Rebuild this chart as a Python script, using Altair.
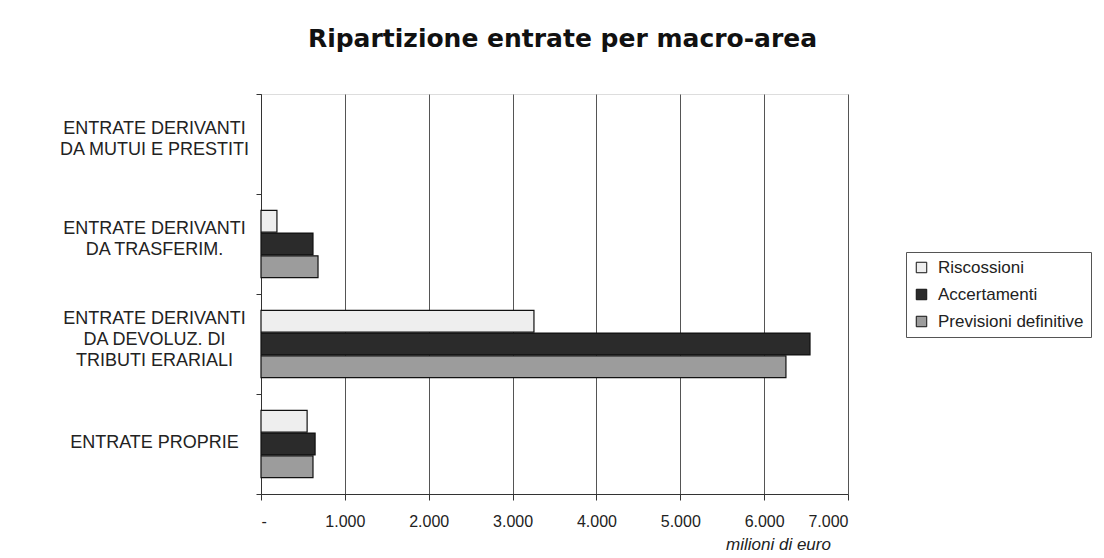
import altair as alt
import pandas as pd

categories = [
    "ENTRATE DERIVANTI|DA MUTUI E PRESTITI",
    "ENTRATE DERIVANTI|DA TRASFERIM.",
    "ENTRATE DERIVANTI|DA DEVOLUZ. DI|TRIBUTI ERARIALI",
    "ENTRATE PROPRIE",
]
series = ["Riscossioni", "Accertamenti", "Previsioni definitive"]
riscossioni = [0, 190, 3255, 550]
accertamenti = [0, 620, 6547, 645]
previsioni = [0, 680, 6260, 620]
x_ticks = [0, 1000, 2000, 3000, 4000, 5000, 6000, 7000]
colors = ["#eeeeee", "#2b2b2b", "#9c9c9c"]

rows = []
for vals, s in zip([riscossioni, accertamenti, previsioni], series):
    for c, v in zip(categories, vals):
        rows.append({"categoria": c, "serie": s, "valore": v})
df = pd.DataFrame(rows)

font = "Liberation Sans"

label_offset = {
    "condition": [
        {"test": "indexof(datum.label, 'TRIBUTI') >= 0", "value": -26},
        {"test": "indexof(datum.label, '|') >= 0", "value": -16},
    ],
    "value": -2,
}

chart = alt.Chart(df).mark_bar(stroke="#111111", strokeWidth=1.2).encode(
    y=alt.Y("categoria:N", sort=categories, title=None,
            scale=alt.Scale(domain=categories, paddingInner=0, paddingOuter=0),
            axis=alt.Axis(
                labelExpr="split(datum.label, '|')",
                labelAlign="center", labelPadding=102, tickBand="extent",
                labelOffset=label_offset,
                tickSize=5, tickColor="#333333", domainColor="#333333",
                labelFont=font, labelFontSize=18, labelColor="#222222",
                labelLineHeight=21, grid=False, labelLimit=400)),
    yOffset=alt.YOffset("serie:N", sort=series,
                        scale=alt.Scale(paddingInner=0.04, paddingOuter=0.72)),
    x=alt.X("valore:Q", title="milioni di euro",
            scale=alt.Scale(domain=[0, 7000], nice=False),
            axis=alt.Axis(values=x_ticks,
                          labelExpr="datum.value == 0 ? '-' : replace(format(datum.value, ',d'), ',', '.')",
                          grid=True, gridColor="#555555", gridWidth=1,
                          tickSize=6, tickColor="#333333", domainColor="#333333",
                          labelFont=font, labelFontSize=16, labelColor="#222222",
                          labelPadding=13,
                          titleFont=font, titleFontStyle="italic", titleFontWeight="normal",
                          titleFontSize=17, titleColor="#222222",
                          titleX=517, titleY=50, titleAlign="center", titleBaseline="middle")),
    color=alt.Color("serie:N", sort=series,
                    scale=alt.Scale(domain=series, range=colors),
                    legend=alt.Legend(title=None, orient="none", legendX=645, legendY=158,
                                      symbolType="square", symbolSize=110,
                                      symbolStrokeColor="#111111", symbolStrokeWidth=1,
                                      labelFont=font, labelFontSize=17, labelColor="#222222",
                                      labelOffset=8,
                                      strokeColor="#555555", padding=7, rowPadding=9,
                                      labelLimit=400)),
    strokeOpacity=alt.condition("datum.valore > 0", alt.value(1), alt.value(0)),
).properties(
    width=587, height=400,
    padding={"left": 50, "top": 19, "right": 0, "bottom": 5},
    title=alt.TitleParams("Ripartizione entrate per macro-area", font="DejaVu Sans",
                          fontSize=25, fontWeight="bold", color="#111111", offset=33, dx=8),
).configure_view(stroke=None).configure(background="white")

chart.save("out.html", embed_options={"renderer": "svg", "actions": False})
